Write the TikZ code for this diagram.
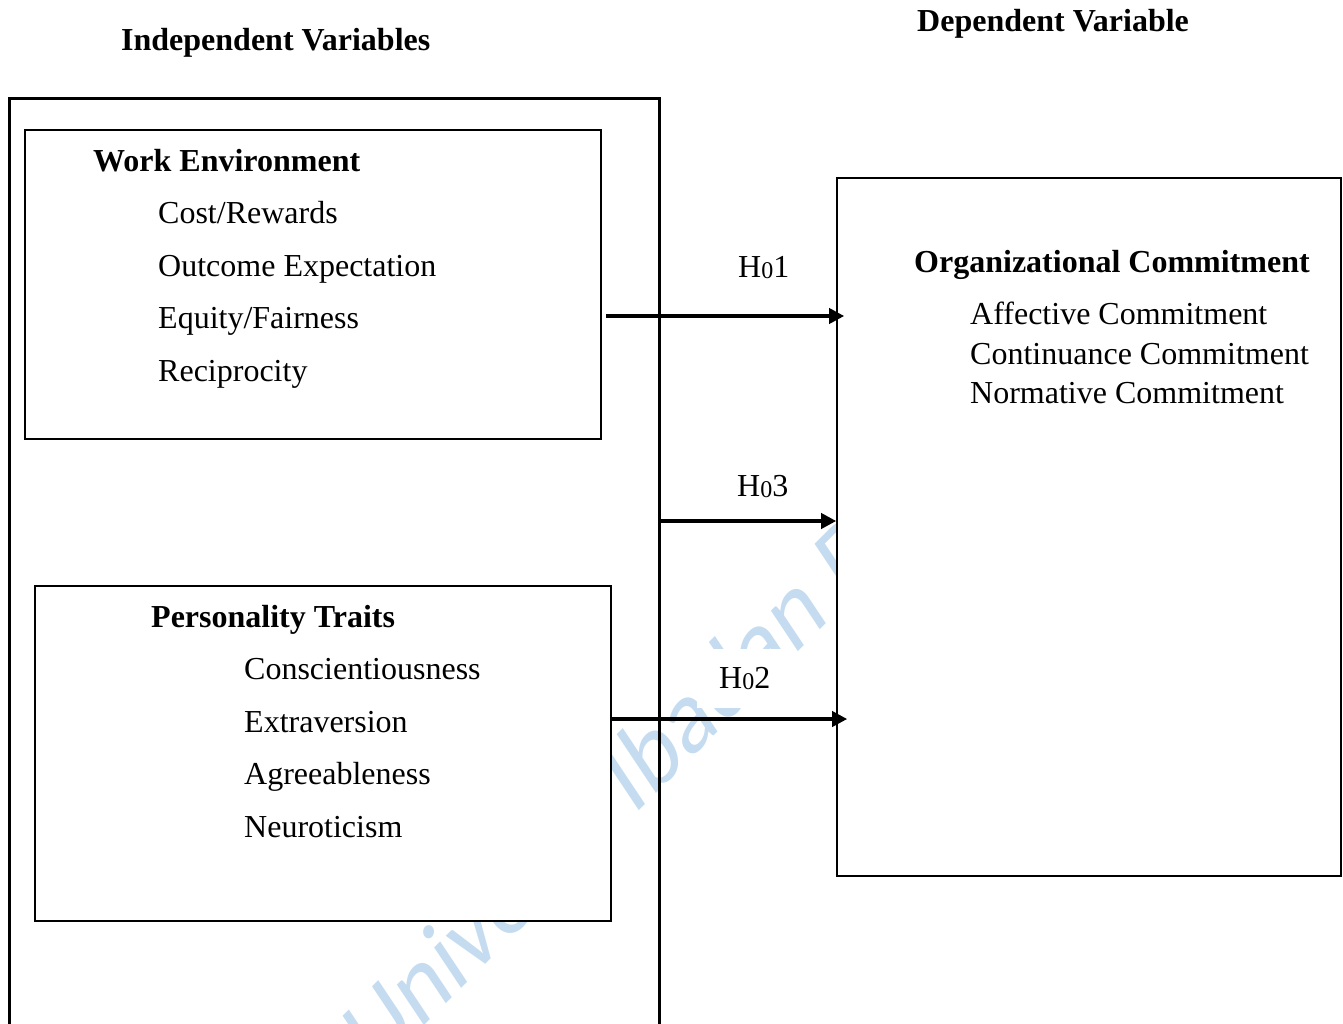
\documentclass[tikz,border=0pt]{standalone}
\usepackage{fontspec}
\setmainfont{Liberation Serif}
\newfontfamily\wmfont{Carlito}
\usetikzlibrary{arrows.meta}
\definecolor{wmblue}{RGB}{197,220,240}
\tikzset{
  txt/.style={anchor=base west, inner sep=0pt, font=\fontsize{32}{38}\selectfont},
  head/.style={anchor=base west, inner sep=0pt, font=\fontsize{32}{38}\selectfont\bfseries},
  outerbox/.style={draw, line width=3pt, minimum width=650pt, minimum height=960pt, inner sep=0pt},
  varbox/.style={draw, line width=1.6pt, fill=white, inner sep=0pt},
  arr/.style={line width=3.6pt, -{Triangle[length=15pt,width=15pt]}},
  hyp/.style={anchor=base west, inner sep=0pt, font=\fontsize{32}{38}\selectfont},
  watermark/.style={anchor=base west, inner sep=0pt, rotate=45, xslant=0.2, text=wmblue, font=\wmfont\fontsize{100}{100}\selectfont},
}
\newcommand{\hsub}[1]{H{\fontsize{24}{24}\selectfont\raisebox{-1.5pt}{0}}#1}
\begin{document}
\begin{tikzpicture}[x=1pt,y=-1pt]
\useasboundingbox (0,0) rectangle (1343,1023);
\begin{scope}
\clip (0,0) rectangle (1343,1023);
% watermark
\node[watermark] (wm) at (374,1076) {Univer\kern-0.645em sity Ibadan D};
% outer frame of independent variables
\node[outerbox] (iv) at (334,578) {};
\end{scope}
% headings
\node[head] (ivh) at (121,50) {Independent Variables};
\node[head] (dvh) at (917,31) {Dependent Variable};
% boxes
\node[varbox, minimum width=576pt, minimum height=309pt] (we) at (313,284.5) {};
\node[varbox, minimum width=576pt, minimum height=335pt] (pt) at (323,753.5) {};
\node[varbox, minimum width=504pt, minimum height=698pt] (oc) at (1089,527) {};
% work environment
\node[head] (weh) at (93,171) {Work Environment};
\node[txt] (we1) at (158,223) {Cost/Rewards};
\node[txt] (we2) at (158,276) {Outcome Expectation};
\node[txt] (we3) at (158,328) {Equity/Fairness};
\node[txt] (we4) at (158,381) {Reciprocity};
% personality traits
\node[head] (pth) at (151,627) {Personality Traits};
\node[txt] (pt1) at (244,679) {Conscientiousness};
\node[txt] (pt2) at (244,732) {Extraversion};
\node[txt] (pt3) at (244,784) {Agreeableness};
\node[txt] (pt4) at (244,837) {Neuroticism};
% organizational commitment
\node[head] (och) at (914,272) {Organizational Commitment};
\node[txt] (oc1) at (970,324) {Affective Commitment};
\node[txt] (oc2) at (970,364) {Continuance Commitment};
\node[txt] (oc3) at (970,403) {Normative Commitment};
% connectors
\coordinate (h1y) at (0,316);
\coordinate (h3y) at (0,521);
\coordinate (h2y) at (0,719);
\draw[arr] ([xshift=4pt]we.east |- h1y) -- ([xshift=8pt]oc.west |- h1y);
\draw[arr] (iv.east |- h3y) -- (oc.west |- h3y);
\draw[arr] ([xshift=-2pt]pt.east |- h2y) -- ([xshift=11pt]oc.west |- h2y);
% hypothesis labels
\node[hyp] (l1) at (738,277) {\hsub{1}};
\node[hyp] (l3) at (737,496) {\hsub{3}};
\node[hyp, fill=white, inner xsep=22pt, inner ysep=18pt] (l2) at (697,688) {\hsub{2}};
\end{tikzpicture}
\end{document}
